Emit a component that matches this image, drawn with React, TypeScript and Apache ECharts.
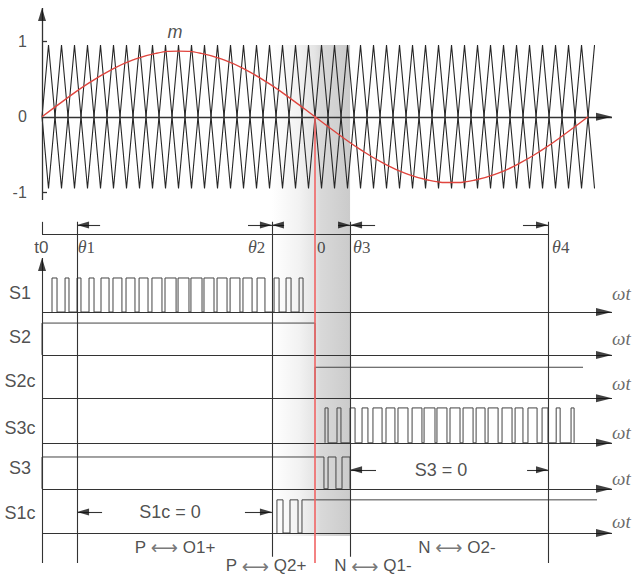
import { useEffect, useRef } from "react";
import * as echarts from "echarts";

// ---------------- DATA (x in degrees of ωt) ----------------
const X_END = 375.8;
const THETA1 = 23.1;
const THETA2 = 151.6;
const ZERO_CROSS = 180;
const THETA3 = 203.1;
const THETA4 = 333.6;

// modulating wave m
const mAngle = [0, 15, 30, 45, 60, 75, 90, 105, 120, 135, 150, 165, 180, 195, 210, 225, 240, 255, 270, 285, 300, 315, 330, 345, 360];
const mValue = [0, 0.225, 0.435, 0.615, 0.753, 0.84, 0.87, 0.84, 0.753, 0.615, 0.435, 0.225, 0, -0.225, -0.435, -0.615, -0.753, -0.84, -0.87, -0.84, -0.753, -0.615, -0.435, -0.225, 0];

// triangular carriers: angles of their peaks
const carrierPeakAngle = [4.29, 12.86, 21.43, 30.0, 38.57, 47.14, 55.71, 64.29, 72.86, 81.43, 90.0, 98.57, 107.14, 115.71, 124.29, 132.86, 141.43, 150.0, 158.57, 167.14, 175.71, 184.29, 192.86, 201.43, 210.0, 218.57, 227.14, 235.71, 244.29, 252.86, 261.43, 270.0, 278.57, 287.14, 295.71, 304.29, 312.86, 321.43, 330.0, 338.57, 347.14, 355.71, 364.29];
const carrierAmp = 0.95;

const yTickLabels = ["1", "0", "-1"];
const yTickValues = [1, 0, -1];

// switching signals
const rowNames = ["S1", "S2", "S2c", "S3c", "S3", "S1c"];
const rowBase = [5, 4.03, 3.05, 2.04, 1.0, 0];
const rowHigh = [0.77, 0.72, 0.7, 0.79, 0.72, 0.75];
const s1On = [[6.6, 9.9], [15.2, 17.8], [23.1, 25.7], [31.0, 34.3], [38.9, 44.2], [46.8, 52.7], [55.4, 61.3], [64.0, 69.9], [72.5, 79.1], [81.1, 88.4], [89.7, 96.9], [98.2, 105.5], [106.8, 113.4], [115.4, 122.0], [124.0, 130.5], [132.5, 138.5], [141.8, 147.0], [153.0, 156.3], [160.9, 164.2], [169.5, 172.1]];
const s2On = [[0, 180]];
const s2cOn = [[180, 356.7]];
const s3cOn = [[186.6, 188.6], [194.5, 197.1], [203.1, 206.4], [211.0, 214.9], [218.2, 224.2], [226.8, 232.7], [234.7, 241.3], [244.0, 250.5], [251.9, 259.1], [260.4, 267.0], [269.0, 275.6], [277.6, 284.2], [286.2, 292.1], [294.1, 300.7], [303.3, 309.9], [311.9, 317.1], [320.4, 326.4], [329.7, 333.6], [339.0, 341.6], [348.8, 350.8]];
const s3On = [[0, 185.9], [188.6, 193.8], [197.8, 203.1]];
const s1cOn = [[154.9, 158.9], [163.5, 168.8], [171.4, 365.9]];
const rowOn = [s1On, s2On, s2cOn, s3cOn, s3On, s1cOn];
const rowOpenEnd = [false, false, true, false, false, true];

// dimension arrows: level, tail angle, tip angle
const dimLevel = [6.97, 6.97, 6.97, 6.97, 6.97, 6.97, 0.475, 0.475, 1.43, 1.43];
const dimTail = [38.3, 135.8, 159.6, 195.2, 219.6, 317.1, 39.6, 133.8, 220.2, 319.8];
const dimTip = [THETA1, THETA2, THETA2, THETA3, THETA3, THETA4, THETA1, THETA2, THETA3, THETA4];

// ---------------- LAYOUT / STYLE ----------------
const GRID_W = 570;
const PX_PER_DEG = GRID_W / X_END;
const A_MIN = -1.102, A_MAX = 1.441, A_H = 192;
const PX_PER_A = A_H / (A_MAX - A_MIN);
const B_MIN = -1, B_MAX = 11.2, B_H = 539.2;
const PX_PER_B = B_H / (B_MAX - B_MIN);

const INK = "#333333";
const SANS = "'Liberation Sans', Arial, sans-serif";
const SERIF = "'Liberation Serif', 'Times New Roman', serif";

function seg(x1: number, y1: number, x2: number, y2: number) {
  return { coords: [[x1, y1], [x2, y2]] };
}

function hHead(tip: number, y: number, dir: number, len: number, wid: number) {
  return {
    value: [tip - (dir * len) / 2 / PX_PER_DEG, y],
    symbolRotate: dir > 0 ? -90 : 90,
    symbolSize: [wid, len],
  };
}

function vHead(x: number, tip: number, len: number, wid: number, pxPerUnit: number) {
  return { value: [x, tip - len / 2 / pxPerUnit], symbolRotate: 0, symbolSize: [wid, len] };
}

function lbl(x: number, y: number, text: string, extra: any = {}) {
  return {
    value: [x, y],
    label: {
      show: true,
      position: "inside",
      formatter: () => text,
      fontFamily: SANS,
      fontSize: 17,
      color: "#222",
      align: "center",
      verticalAlign: "middle",
      ...extra,
    },
  };
}

function thetaLabel(x: number, y: number, idx: string) {
  return lbl(x, y, `{i|θ}{n|${idx}}`, {
    align: "left",
    rich: {
      i: { fontFamily: SERIF, fontStyle: "italic", fontSize: 18, color: "#222" },
      n: { fontFamily: SERIF, fontSize: 17, color: "#222" },
    },
  });
}

function linkLabel(x: number, y: number, left: string, right: string) {
  return lbl(x, y, `{t|${left} }{a|⟷}{t| ${right}}`, {
    lineHeight: 15,
    rich: {
      t: { fontFamily: SANS, fontSize: 17, color: "#222", lineHeight: 15 },
      a: { fontFamily: "'DejaVu Sans', sans-serif", fontSize: 19, color: "#555", lineHeight: 15 },
    },
  });
}

function buildOption() {
  // carriers
  const carrierA: number[][] = [[0, 0]];
  const carrierB: number[][] = [[0, 0]];
  carrierPeakAngle.forEach((a, k) => {
    const s = k % 2 === 0 ? 1 : -1;
    carrierA.push([a, s * carrierAmp]);
    carrierB.push([a, -s * carrierAmp]);
  });
  const mData = mAngle.map((a, i) => [a, mValue[i]]);

  // pulse rows
  const pulseSeries = rowOn.map((ons, r) => {
    const base = rowBase[r];
    const high = base + rowHigh[r];
    const pts: number[][] = [];
    ons.forEach(([s, e], i) => {
      pts.push([s, base], [s, high], [e, high]);
      if (!(rowOpenEnd[r] && i === ons.length - 1)) pts.push([e, base]);
    });
    return {
      type: "line",
      xAxisIndex: 1,
      yAxisIndex: 1,
      data: pts,
      symbol: "none",
      silent: true,
      lineStyle: { color: "#444", width: 1 },
      z: 3,
    };
  });

  // lines in grid A
  const linesA = [
    seg(0, 0, X_END, 0),
    seg(0, A_MIN, 0, A_MAX),
    seg(0, 1, 5 / PX_PER_DEG, 1),
    seg(0, -1, 5 / PX_PER_DEG, -1),
  ];
  // lines in grid B
  const topV = 7.04;
  const linesB = [
    seg(0, 6.765, THETA4, 6.765),
    seg(0, topV, 0, 6.765),
    seg(THETA1, topV, THETA1, -0.68),
    seg(THETA2, topV, THETA2, -0.54),
    seg(THETA3, topV, THETA3, -0.54),
    seg(THETA4, topV, THETA4, -0.68),
    seg(0, -0.68, 0, 6.22),
    ...rowBase.map((b) => seg(0, b, X_END, b)),
    ...dimTail.map((t, i) => seg(t, dimLevel[i], dimTip[i], dimLevel[i])),
  ];

  const headsA = [hHead(X_END, 0, 1, 16, 8), vHead(0, A_MAX, 13, 8, PX_PER_A)];
  const headsB = [
    vHead(0, 6.22, 13, 8, PX_PER_B),
    ...rowBase.map((b) => hHead(X_END, b, 1, 16, 8)),
    ...dimTip.map((tip, i) => hHead(tip, dimLevel[i], tip > dimTail[i] ? 1 : -1, 12, 7)),
  ];

  const labelsA = [
    ...yTickLabels.map((t, i) => lbl(-10, yTickValues[i], t, { align: "right", fontSize: 16 })),
    lbl(87.7, 1.12, "m", { fontStyle: "italic", fontSize: 18 }),
  ];

  const rowLabelLevel = [5.43, 4.43, 3.44, 2.38, 1.47, 0.45];
  const omegaLevel = [5.43, 4.41, 3.39, 2.285, 1.244, 0.249];
  const labelsB = [
    lbl(-0.4, 6.46, "t0"),
    thetaLabel(23.6, 6.46, "1"),
    thetaLabel(135.8, 6.46, "2"),
    lbl(181.3, 6.46, "0", { align: "left", fontFamily: SERIF, fontSize: 17 }),
    thetaLabel(205.1, 6.46, "3"),
    thetaLabel(336.3, 6.46, "4"),
    ...rowNames.map((n, i) => lbl(-14.5, rowLabelLevel[i], n, { fontSize: 18 })),
    ...omegaLevel.map((l) =>
      lbl(375.8, l, "ωt", { align: "left", fontFamily: SERIF, fontStyle: "italic", fontSize: 19, color: "#444" })
    ),
    lbl(84.4, 0.475, "S1c = 0", { fontSize: 18 }),
    lbl(263.1, 1.43, "S3 = 0", { fontSize: 18 }),
    linkLabel(87.7, -0.317, "P", "O1+"),
    linkLabel(273.6, -0.317, "N", "O2-"),
    linkLabel(147.7, -0.74, "P", "Q2+"),
    linkLabel(218.2, -0.74, "N", "Q1-"),
  ];

  const bandGradient = {
    type: "linear",
    x: 0,
    y: 0,
    x2: 1,
    y2: 0,
    colorStops: [
      { offset: 0, color: "#ffffff" },
      { offset: 0.35, color: "#f2f2f2" },
      { offset: 0.55, color: "#e4e4e4" },
      { offset: 0.62, color: "#d9d9d9" },
      { offset: 1, color: "#cbcbcb" },
    ],
  };

  return {
    animation: false,
    backgroundColor: "#ffffff",
    grid: [
      { left: 42, top: 8, width: GRID_W, height: A_H },
      { left: 42, top: 38, width: GRID_W, height: B_H },
    ],
    xAxis: [
      { type: "value", gridIndex: 0, min: 0, max: X_END, show: false },
      { type: "value", gridIndex: 1, min: 0, max: X_END, show: false },
    ],
    yAxis: [
      { type: "value", gridIndex: 0, min: A_MIN, max: A_MAX, show: false },
      { type: "value", gridIndex: 1, min: B_MIN, max: B_MAX, show: false },
    ],
    series: [
      {
        type: "line",
        xAxisIndex: 1,
        yAxisIndex: 1,
        data: [[THETA2, -0.07]],
        symbol: "none",
        silent: true,
        lineStyle: { width: 0 },
        z: 0,
        markArea: {
          silent: true,
          itemStyle: { color: bandGradient },
          data: [[{ coord: [THETA2, 11.04] }, { coord: [THETA3, -0.07] }]],
        },
      },
      {
        type: "line",
        xAxisIndex: 0,
        yAxisIndex: 0,
        data: carrierA,
        symbol: "none",
        silent: true,
        lineStyle: { color: "#262626", width: 1.1 },
        z: 3,
      },
      {
        type: "line",
        xAxisIndex: 0,
        yAxisIndex: 0,
        data: carrierB,
        symbol: "none",
        silent: true,
        lineStyle: { color: "#262626", width: 1.1 },
        z: 3,
      },
      {
        type: "line",
        xAxisIndex: 0,
        yAxisIndex: 0,
        data: mData,
        smooth: true,
        symbol: "none",
        silent: true,
        lineStyle: { color: "#e0453e", width: 1.4 },
        z: 5,
      },
      {
        type: "lines",
        coordinateSystem: "cartesian2d",
        xAxisIndex: 0,
        yAxisIndex: 0,
        data: linesA,
        symbol: "none",
        silent: true,
        clip: false,
        lineStyle: { color: INK, width: 1.3, opacity: 1, curveness: 0 },
        z: 4,
      },
      {
        type: "lines",
        coordinateSystem: "cartesian2d",
        xAxisIndex: 1,
        yAxisIndex: 1,
        data: linesB,
        symbol: "none",
        silent: true,
        clip: false,
        lineStyle: { color: INK, width: 1.1, opacity: 1, curveness: 0 },
        z: 4,
      },
      ...pulseSeries,
      {
        type: "lines",
        coordinateSystem: "cartesian2d",
        xAxisIndex: 1,
        yAxisIndex: 1,
        data: [seg(ZERO_CROSS, 9.43, ZERO_CROSS, -0.68)],
        symbol: "none",
        silent: true,
        clip: false,
        lineStyle: { color: "#f06464", width: 1.6, opacity: 1, curveness: 0 },
        z: 6,
      },
      {
        type: "scatter",
        xAxisIndex: 0,
        yAxisIndex: 0,
        data: headsA,
        symbol: "triangle",
        silent: true,
        clip: false,
        itemStyle: { color: "#111" },
        z: 7,
      },
      {
        type: "scatter",
        xAxisIndex: 1,
        yAxisIndex: 1,
        data: headsB,
        symbol: "triangle",
        silent: true,
        clip: false,
        itemStyle: { color: "#111" },
        z: 7,
      },
      {
        type: "scatter",
        xAxisIndex: 0,
        yAxisIndex: 0,
        data: labelsA,
        symbolSize: 0,
        silent: true,
        clip: false,
        z: 8,
      },
      {
        type: "scatter",
        xAxisIndex: 1,
        yAxisIndex: 1,
        data: labelsB,
        symbolSize: 0,
        silent: true,
        clip: false,
        z: 8,
      },
    ],
  };
}

export default function App() {
  const ref = useRef<HTMLDivElement>(null);
  useEffect(() => {
    const chart = echarts.init(ref.current!, null, { renderer: "svg" });
    chart.setOption(buildOption() as any);
    return () => chart.dispose();
  }, []);
  return (
    <div
      ref={ref}
      style={{ position: "fixed", left: 0, top: 0, width: 640, height: 578, background: "#fff" }}
    />
  );
}
